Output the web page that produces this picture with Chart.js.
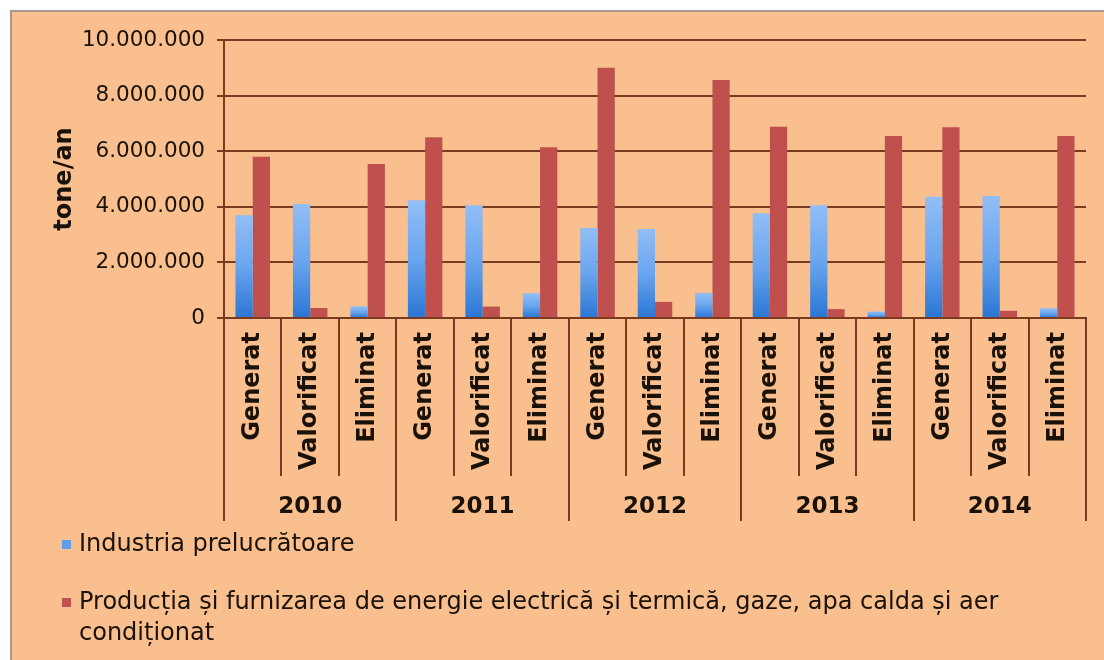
<!DOCTYPE html>
<html>
<head>
<meta charset="utf-8">
<script src="https://cdn.jsdelivr.net/npm/chart.js@4"></script>
<style>
  html, body { margin: 0; padding: 0; background: #ffffff; }
  #wrap { position: absolute; left: 0; top: 0; width: 1104px; height: 660px; }
  #frame { position: absolute; left: 10px; top: 10px; width: 1094px; height: 650px;
           background: #F9BF8F; border-left: 2px solid #A8968F; border-top: 2px solid #A8968F; box-sizing: border-box; }
  canvas { position: absolute; left: 0; top: 0; }
</style>
</head>
<body>
<div id="wrap">
  <div id="frame"></div>
  <canvas id="c" width="1104" height="660"></canvas>
</div>
<script>
const categories = ["Generat","Valorificat","Eliminat","Generat","Valorificat","Eliminat","Generat","Valorificat","Eliminat","Generat","Valorificat","Eliminat","Generat","Valorificat","Eliminat"];
const years = ["2010","2011","2012","2013","2014"];
const seriesNames = ["Industria prelucrătoare", "Producția și furnizarea de energie electrică și termică, gaze, apa calda și aer condiționat"];
const industriaValues = [3700000, 4100000, 420000, 4240000, 4060000, 890000, 3240000, 3200000, 900000, 3770000, 4060000, 230000, 4360000, 4390000, 350000];
const energieValues = [5800000, 360000, 5540000, 6500000, 410000, 6140000, 9000000, 580000, 8560000, 6880000, 320000, 6550000, 6860000, 260000, 6550000];
const yTicks = [0, 2000000, 4000000, 6000000, 8000000, 10000000];
const yTitle = "tone/an";

const gridColor = '#7A3A20';
const textColor = '#1a1208';
const FONT = '"DejaVu Sans", Verdana, sans-serif';

function fmt(v) { return String(v).replace(/\B(?=(\d{3})+(?!\d))/g, '.'); }

function blueGradient(ctx) {
  const chart = ctx.chart;
  if (!chart.chartArea || ctx.type !== 'data') return '#5B9BE6';
  const y = chart.scales.y;
  const top = y.getPixelForValue(ctx.raw);
  const bottom = y.getPixelForValue(0);
  if (!isFinite(top) || bottom - top < 1) return '#8DB9F2';
  const g = chart.ctx.createLinearGradient(0, top, 0, bottom);
  g.addColorStop(0, '#92BEF6');
  g.addColorStop(0.5, '#6AA5EE');
  g.addColorStop(1, '#2A76D4');
  return g;
}

const decor = {
  id: 'decor',
  afterDraw(chart) {
    const c = chart.ctx;
    const area = chart.chartArea;
    const n = categories.length;
    const catW = (area.right - area.left) / n;
    c.save();
    c.strokeStyle = gridColor;
    c.lineWidth = 2;
    for (let i = 0; i <= n; i++) {
      const px = Math.round(area.left + i * catW);
      const long = (i % 3 === 0);
      c.beginPath();
      c.moveTo(px, area.bottom);
      c.lineTo(px, long ? 521 : 476);
      c.stroke();
    }
    // year labels
    c.fillStyle = textColor;
    c.font = 'bold 23px ' + FONT;
    c.textAlign = 'center';
    c.textBaseline = 'middle';
    years.forEach((yr, gi) => {
      const cx = area.left + (gi * 3 + 1.5) * catW;
      c.fillText(yr, cx, 507);
    });
    // legend
    c.textAlign = 'left';
    c.font = '24px ' + FONT;
    const items = [
      { color: '#5E9EEA', lines: [seriesNames[0]], y: 545 },
      { color: '#C0504D', lines: ["Producția și furnizarea de energie electrică și termică, gaze, apa calda și aer", "condiționat"], y: 603 }
    ];
    items.forEach(it => {
      c.fillStyle = it.color;
      c.fillRect(62, it.y - 5, 9, 9);
      c.fillStyle = textColor;
      it.lines.forEach((ln, li) => c.fillText(ln, 79, it.y + li * 31));
    });
    c.restore();
  }
};

new Chart(document.getElementById('c'), {
  type: 'bar',
  data: {
    labels: categories,
    datasets: [
      { label: seriesNames[0], data: industriaValues, backgroundColor: blueGradient, borderWidth: 0 },
      { label: seriesNames[1], data: energieValues, backgroundColor: '#C0504D', borderWidth: 0 }
    ]
  },
  options: {
    responsive: false,
    animation: false,
    layout: { padding: { left: 46, top: 40, right: 18, bottom: 0 } },
    plugins: { legend: { display: false }, tooltip: { enabled: false } },
    datasets: { bar: { categoryPercentage: 0.6, barPercentage: 1.0 } },
    scales: {
      x: {
        type: 'category',
        offset: true,
        grid: { display: false, drawTicks: false },
        border: { display: true, color: gridColor, width: 2 },
        ticks: {
          maxRotation: 90, minRotation: 90, autoSkip: false, padding: 14,
          color: textColor, font: { family: FONT, size: 24, weight: 'bold' }
        },
        afterFit(scale) { scale.height = 660 - 318; }
      },
      y: {
        min: 0, max: 10000000,
        afterBuildTicks(scale) { scale.ticks = yTicks.map(v => ({ value: v })); },
        grid: { color: gridColor, lineWidth: 2, drawTicks: true, tickLength: 7, tickColor: gridColor },
        border: { display: true, color: gridColor, width: 2 },
        ticks: {
          padding: 12, color: textColor,
          font: { family: FONT, size: 21.5 },
          callback: (v) => fmt(v)
        },
        title: {
          display: true, text: yTitle, color: textColor, padding: { top: 4, bottom: 0 },
          font: { family: FONT, size: 24, weight: 'bold' }
        },
        afterFit(scale) { scale.width = 224 - 46; }
      }
    }
  },
  plugins: [decor]
});
</script>
</body>
</html>
